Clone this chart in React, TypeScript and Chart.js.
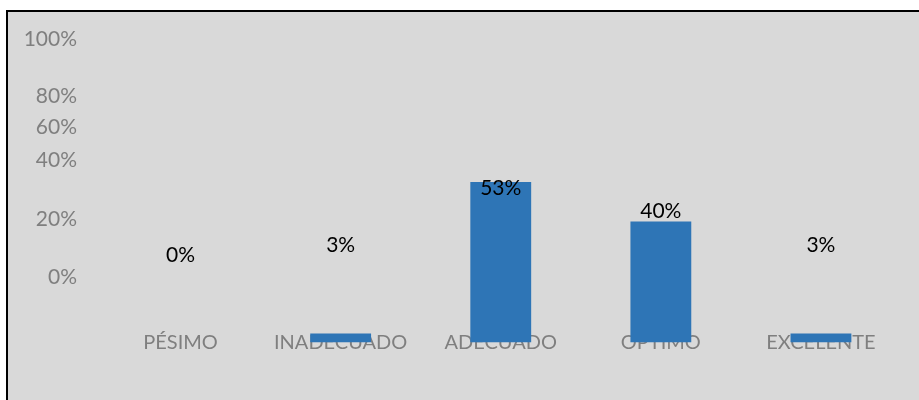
import React, { useEffect, useRef } from "react";
import { Chart, registerables } from "chart.js";

Chart.register(...registerables);

const categories = ["PÉSIMO", "INADECUADO", "ADECUADO", "OPTIMO", "EXCELENTE"];
const values = [0, 3, 53, 40, 3];
const valueLabels = ["0%", "3%", "53%", "40%", "3%"];
// scale value at which each data label sits
const labelAnchors = [28.9, 32.2, 50.9, 43.4, 32.2];
const yTickLabels = ["0%", "20%", "40%", "60%", "80%", "100%"];
const yTickValues = [21.6, 40.8, 60.3, 71.0, 81.2, 100];

const FONT = "Lato, 'Noto Sans', sans-serif";

const dataLabelPlugin = {
  id: "dataLabels",
  afterDatasetsDraw(chart: any) {
    const ctx = chart.ctx;
    const meta = chart.getDatasetMeta(0);
    const yScale = chart.scales.y;
    ctx.save();
    ctx.font = `21px ${FONT}`;
    ctx.fillStyle = "#000000";
    ctx.textAlign = "center";
    ctx.textBaseline = "middle";
    meta.data.forEach((bar: any, i: number) => {
      ctx.fillText(valueLabels[i], bar.x, yScale.getPixelForValue(labelAnchors[i]));
    });
    ctx.restore();
  },
};

export default function App() {
  const ref = useRef<HTMLCanvasElement | null>(null);
  useEffect(() => {
    if (!ref.current) return;
    const chart = new Chart(ref.current, {
      type: "bar",
      data: {
        labels: categories,
        datasets: [
          {
            data: values,
            backgroundColor: "#2E75B6",
            barPercentage: 0.38,
            categoryPercentage: 1,
          },
        ],
      },
      options: {
        responsive: false,
        animation: false,
        layout: { padding: { left: 0, right: 18, top: 27.7, bottom: 0 } },
        plugins: { legend: { display: false }, tooltip: { enabled: false } },
        scales: {
          x: {
            z: 1,
            grid: { display: false, drawTicks: false },
            border: { display: false },
            afterFit: (scale: any) => {
              scale.height = 57.5;
            },
            ticks: {
              color: "#7F7F7F",
              font: { family: FONT, size: 20 },
              mirror: true,
              padding: -12.5,
              maxRotation: 0,
              autoSkip: false,
            },
          },
          y: {
            min: 0,
            max: 100,
            grid: { display: false, drawTicks: false },
            border: { display: false },
            afterBuildTicks: (scale: any) => {
              scale.ticks = yTickValues.map((v) => ({ value: v }));
            },
            afterFit: (scale: any) => {
              scale.width = 92.5;
              scale.paddingTop = 0;
            },
            ticks: {
              color: "#7F7F7F",
              font: { family: FONT, size: 21 },
              padding: 23.5,
              autoSkip: false,
              callback: (_v: any, i: number) => yTickLabels[i],
            },
          },
        },
      },
      plugins: [dataLabelPlugin],
    });
    return () => chart.destroy();
  }, []);

  return (
    <div
      style={{
        position: "absolute",
        left: 6,
        top: 10,
        width: 913,
        height: 390,
        boxSizing: "border-box",
        borderLeft: "2px solid #000",
        borderTop: "2px solid #000",
        background: "#D9D9D9",
      }}
    >
      <canvas ref={ref} width={911} height={388} style={{ display: "block" }} />
    </div>
  );
}
